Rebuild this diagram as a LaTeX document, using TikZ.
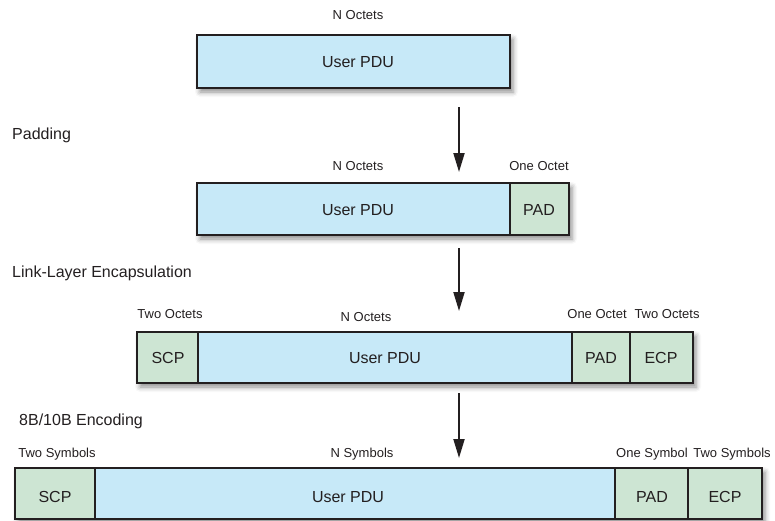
\documentclass[tikz,border=0pt]{standalone}
\usepackage{fontspec}
\setmainfont{Liberation Sans}
\usetikzlibrary{arrows.meta,shadows.blur}
\definecolor{pdublue}{RGB}{199,233,248}
\definecolor{padgreen}{RGB}{205,229,211}
\definecolor{ink}{RGB}{35,31,32}
\newcommand{\pduseg}[6]{%
  \node[segbox, fill=#6, minimum width={#4-#2}, minimum height={#5-#3}] (#1) at ({(#2+#4)/2},{(#3+#5)/2}) {};}
\newcommand{\pduframe}[5]{%
  \node[framebox, minimum width={#4-#2}, minimum height={#5-#3}] (#1) at ({(#2+#4)/2},{(#3+#5)/2}) {};}
\begin{document}
\begin{tikzpicture}[x=1pt,y=-1pt,
  segbox/.style={draw=ink, line width=1.4pt, inner sep=0pt, outer sep=0pt},
  framebox/.style={fill=white, inner sep=0pt, outer sep=0pt,
    blur shadow={shadow xshift=3pt, shadow yshift=-4pt, shadow blur radius=5pt, shadow opacity=45}},
  outline/.style={draw=ink, line width=1.8pt},
  lbl/.style={font=\fontsize{13}{15}\selectfont, text=ink, inner sep=0pt, anchor=base},
  segtext/.style={font=\fontsize{16}{19}\selectfont, text=ink, inner sep=0pt, anchor=base},
  ttl/.style={font=\fontsize{16}{19}\selectfont, text=ink, inner sep=0pt, anchor=base west},
  flow/.style={draw=ink, line width=2pt, -{Triangle[width=11pt,length=19pt]}}
]
\useasboundingbox (0,0) rectangle (775,520);

% Row 1
\pduframe{r1}{197}{35}{510}{88}
\pduseg{r1u}{197}{35}{510}{88}{pdublue}
\draw[outline] (r1.north west) rectangle (r1.south east);
\node[lbl] (r1l) at (358,19) {N Octets};
\node[segtext] (r1ut) at (358,67) {User PDU};

% Arrow 1
\coordinate (a1s) at (459,107);
\coordinate (a1e) at (459,172);
\draw[flow] (a1s) -- (a1e);
\node[ttl] (t1) at (12,139) {Padding};

% Row 2
\pduframe{r2}{197}{183}{569}{235}
\pduseg{r2u}{197}{183}{510}{235}{pdublue}
\pduseg{r2p}{510}{183}{569}{235}{padgreen}
\draw[outline] (r2.north west) rectangle (r2.south east);
\node[lbl] (r2l1) at (358,170) {N Octets};
\node[lbl] (r2l2) at (539,170) {One Octet};
\node[segtext] (r2ut) at (358,215) {User PDU};
\node[segtext] (r2pt) at (539,215) {PAD};

% Arrow 2
\coordinate (a2s) at (459,248);
\coordinate (a2e) at (459,311);
\draw[flow] (a2s) -- (a2e);
\node[ttl] (t2) at (12,277) {Link-Layer Encapsulation};

% Row 3
\pduframe{r3}{137}{332}{693}{383}
\pduseg{r3s}{137}{332}{198}{383}{padgreen}
\pduseg{r3u}{198}{332}{572}{383}{pdublue}
\pduseg{r3p}{572}{332}{630}{383}{padgreen}
\pduseg{r3e}{630}{332}{693}{383}{padgreen}
\draw[outline] (r3.north west) rectangle (r3.south east);
\node[lbl] (r3l1) at (170,318) {Two Octets};
\node[lbl] (r3l2) at (366,321) {N Octets};
\node[lbl] (r3l3) at (597,318) {One Octet};
\node[lbl] (r3l4) at (667,318) {Two Octets};
\node[segtext] (r3st) at (168,363) {SCP};
\node[segtext] (r3ut) at (385,363) {User PDU};
\node[segtext] (r3pt) at (601,363) {PAD};
\node[segtext] (r3et) at (661,363) {ECP};

% Arrow 3
\coordinate (a3s) at (459,393);
\coordinate (a3e) at (459,458);
\draw[flow] (a3s) -- (a3e);
\node[ttl] (t3) at (19,425) {8B/10B Encoding};

% Row 4
\pduframe{r4}{15}{468}{762}{519}
\pduseg{r4s}{15}{468}{95}{519}{padgreen}
\pduseg{r4u}{95}{468}{615}{519}{pdublue}
\pduseg{r4p}{615}{468}{688}{519}{padgreen}
\pduseg{r4e}{688}{468}{762}{519}{padgreen}
\draw[outline] (r4.north west) rectangle (r4.south east);
\node[lbl] (r4l1) at (57,457) {Two Symbols};
\node[lbl] (r4l2) at (362,457) {N Symbols};
\node[lbl] (r4l3) at (652,457) {One Symbol};
\node[lbl] (r4l4) at (732,457) {Two Symbols};
\node[segtext] (r4st) at (55,502) {SCP};
\node[segtext] (r4ut) at (348,502) {User PDU};
\node[segtext] (r4pt) at (652,502) {PAD};
\node[segtext] (r4et) at (725,502) {ECP};
\end{tikzpicture}
\end{document}
